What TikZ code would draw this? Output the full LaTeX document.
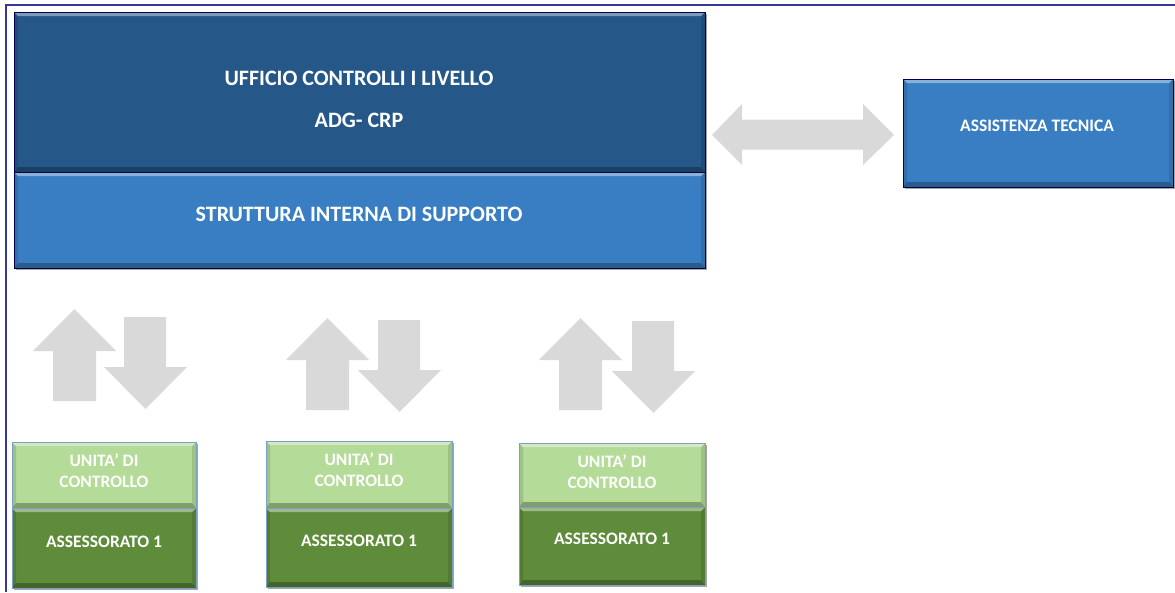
\documentclass[tikz,border=0pt]{standalone}
\usepackage{fontspec}
\setmainfont{Carlito}
\usetikzlibrary{shadows}
\definecolor{navy}{RGB}{38,87,137}
\definecolor{midblue}{RGB}{57,126,194}
\definecolor{lgreen}{RGB}{180,219,152}
\definecolor{dgreen}{RGB}{95,140,58}
\definecolor{arrowgray}{RGB}{217,217,217}
\definecolor{framecol}{RGB}{55,55,155}
\definecolor{greenline}{RGB}{120,160,200}
\newcommand\uparr[2]{%
  \fill[arrowgray] (#1+41.5,#2) -- (#1+83,#2+42) -- (#1+63,#2+42) -- (#1+63,#2+92)
    -- (#1+20,#2+92) -- (#1+20,#2+42) -- (#1,#2+42) -- cycle;}
\newcommand\downarr[2]{%
  \fill[arrowgray] (#1+20,#2) -- (#1+62,#2) -- (#1+62,#2+50) -- (#1+83,#2+50)
    -- (#1+41.5,#2+92) -- (#1,#2+50) -- (#1+20,#2+50) -- cycle;}
\tikzset{
  bevel/.style={fill=#1, path picture={
    \coordinate (pNW) at (path picture bounding box.north west);
    \coordinate (pNE) at (path picture bounding box.north east);
    \coordinate (pSW) at (path picture bounding box.south west);
    \coordinate (pSE) at (path picture bounding box.south east);
    \fill[#1!88!black] (pNW) -- ([shift={(4pt,-4pt)}]pNW) -- ([shift={(4pt,5pt)}]pSW) -- (pSW) -- cycle;
    \fill[#1!88!black] (pNE) -- ([shift={(-4pt,-4pt)}]pNE) -- ([shift={(-4pt,5pt)}]pSE) -- (pSE) -- cycle;
    \fill[#1!60!white] (pNW) -- (pNE) -- ([shift={(-4pt,-4pt)}]pNE) -- ([shift={(4pt,-4pt)}]pNW) -- cycle;
    \fill[#1!72!black] (pSW) -- (pSE) -- ([shift={(-4pt,5pt)}]pSE) -- ([shift={(4pt,5pt)}]pSW) -- cycle;
  }},
  box/.style={rectangle, inner sep=0pt, outer sep=0pt, anchor=north west,
    draw=#1, line width=0.7pt,
    drop shadow={shadow xshift=1.5pt, shadow yshift=-1.5pt, opacity=0.35, fill=black}},
  box/.default={black!70!blue},
  bigtxt/.style={text=white, inner sep=0pt, font=\bfseries\fontsize{22}{26}\selectfont},
  smalltxt/.style={text=white, inner sep=0pt, font=\bfseries\fontsize{17.5}{20}\selectfont},
}
\begin{document}
\begin{tikzpicture}[x=1pt,y=-1pt]
\useasboundingbox (0,0) rectangle (1175,592);
\draw[framecol, line width=2pt] (6,592) -- (6,5) -- (1175,5);

% top blocks
\node[box, bevel=navy, minimum width=691pt, minimum height=160pt] (ufficio) at (14,12) {};
\node[box, bevel=midblue, minimum width=691pt, minimum height=96pt] (struttura) at (14,172) {};
\node[box, bevel=midblue, minimum width=270pt, minimum height=108pt] (assist) at (903,79) {};

\node[bigtxt] (t1) at (359,78) {UFFICIO CONTROLLI I LIVELLO};
\node[bigtxt] (t2) at (359,120) {ADG- CRP};
\node[bigtxt] (t3) at (359,214) {STRUTTURA INTERNA DI SUPPORTO};
\node[smalltxt] (t4) at (1037,126) {ASSISTENZA TECNICA};

% horizontal double arrow
\fill[arrowgray] (712,135) -- (742,104) -- (742,119.5) -- (863,119.5) -- (863,104) -- (894,135)
  -- (863,165) -- (863,149.5) -- (742,149.5) -- (742,165) -- cycle;

% up/down arrows
\uparr{33}{309}\downarr{104}{317}
\uparr{286}{318}\downarr{358}{320}
\uparr{539}{318}\downarr{612}{321}

% lower groups
\node[box=greenline, bevel=lgreen, minimum width=184pt, minimum height=66pt] (u1) at (12,442) {};
\node[box=greenline, bevel=dgreen, minimum width=184pt, minimum height=80pt] (a1) at (12,508) {};
\node[box=greenline, bevel=lgreen, minimum width=186pt, minimum height=67pt] (u2) at (266,441) {};
\node[box=greenline, bevel=dgreen, minimum width=186pt, minimum height=79pt] (a2) at (266,508) {};
\node[box=greenline, bevel=lgreen, minimum width=186pt, minimum height=64pt] (u3) at (519,443) {};
\node[box=greenline, bevel=dgreen, minimum width=186pt, minimum height=78pt] (a3) at (519,507) {};

\node[smalltxt] (u1a) at (104,460) {UNITA’ DI};
\node[smalltxt] (u1b) at (104,482) {CONTROLLO};
\node[smalltxt] (a1t) at (104,542) {ASSESSORATO 1};
\node[smalltxt] (u2a) at (359,459) {UNITA’ DI};
\node[smalltxt] (u2b) at (359,481) {CONTROLLO};
\node[smalltxt] (a2t) at (359,541) {ASSESSORATO 1};
\node[smalltxt] (u3a) at (612,461) {UNITA’ DI};
\node[smalltxt] (u3b) at (612,483) {CONTROLLO};
\node[smalltxt] (a3t) at (612,539) {ASSESSORATO 1};
\end{tikzpicture}
\end{document}
